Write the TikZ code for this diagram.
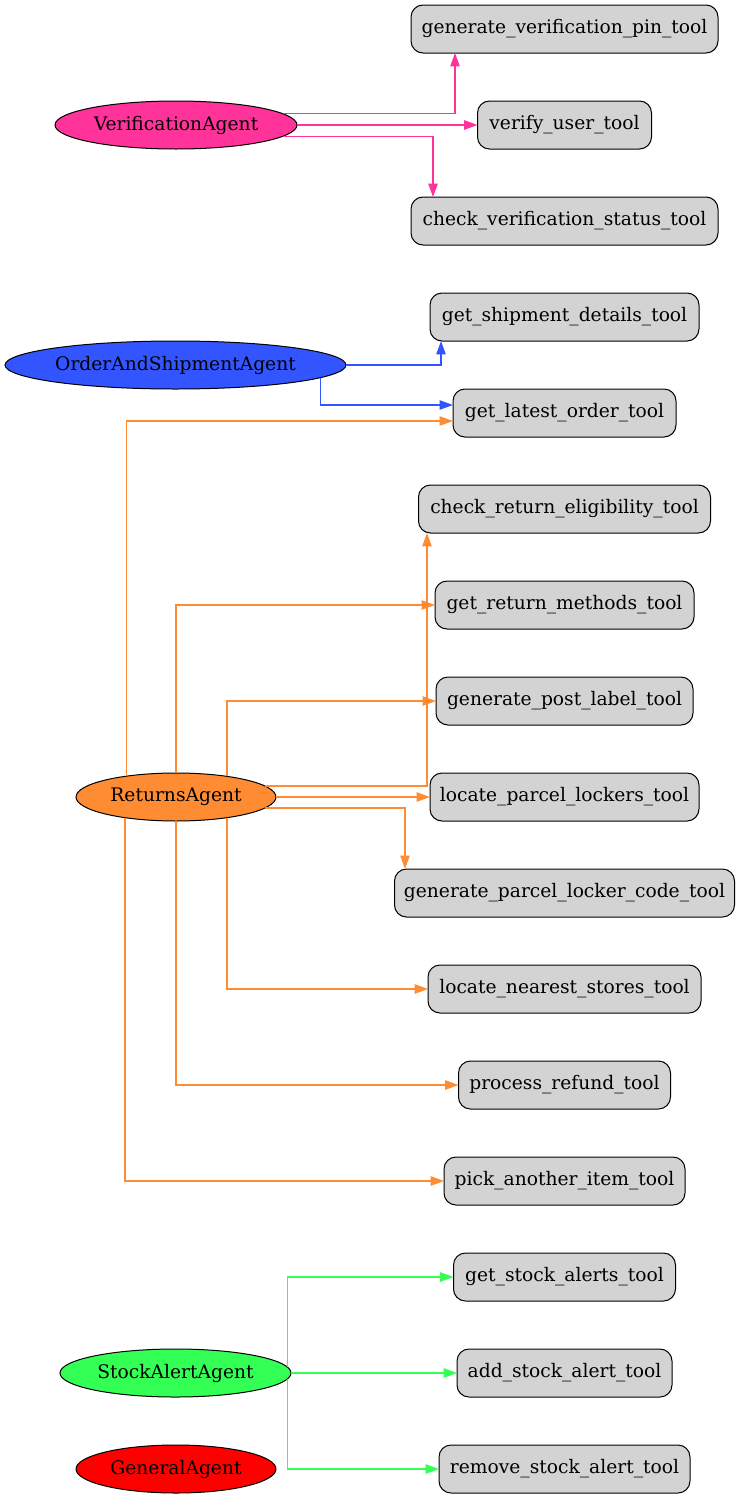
\documentclass[tikz,border=0pt]{standalone}
\usepackage{fontspec}
\setmainfont{DejaVu Serif}
\usetikzlibrary{arrows.meta,shapes.geometric,calc}
\definecolor{vpink}{RGB}{255,51,153}
\definecolor{oblue}{RGB}{51,85,255}
\definecolor{rorange}{RGB}{255,140,51}
\definecolor{sgreen}{RGB}{51,255,85}
\definecolor{gred}{RGB}{255,0,0}
\definecolor{toolgray}{RGB}{211,211,211}
\tikzset{
  toolbox/.style={draw=black, fill=toolgray, rounded corners=9pt, minimum height=36pt,
    inner xsep=1pt, inner ysep=0pt, outer sep=0pt, line width=0.75pt,
    font=\fontsize{14}{16}\selectfont, minimum width=#1},
  agent/.style={ellipse, draw=black, fill=#1, minimum height=36pt, inner sep=0pt,
    outer sep=0pt, line width=0.75pt, font=\fontsize{14}{16}\selectfont},
  edgebase/.style={line width=1pt, -{Triangle[length=10pt,width=7pt]}},
  pinkedge/.style={edgebase, draw=vpink},
  blueedge/.style={edgebase, draw=oblue},
  orangeedge/.style={edgebase, draw=rorange},
  greenedge/.style={edgebase, draw=sgreen},
}
\begin{document}
\begin{tikzpicture}[x=0.75pt, y=-0.75pt]
\useasboundingbox (0,0) rectangle (740,1499);

% tools
\node[toolbox=230.25pt] (gvp)  at (564.5,29)   {generate\_verification\_pin\_tool};
\node[toolbox=130.5pt]  (vut)  at (564.5,125)  {verify\_user\_tool};
\node[toolbox=230.25pt] (cvs)  at (564.5,221)  {check\_verification\_status\_tool};
\node[toolbox=201.75pt] (gsd)  at (564.5,317)  {get\_shipment\_details\_tool};
\node[toolbox=167.25pt] (glo)  at (564.5,413)  {get\_latest\_order\_tool};
\node[toolbox=219pt]    (cre)  at (564.5,509)  {check\_return\_eligibility\_tool};
\node[toolbox=194.25pt] (grm)  at (564.5,605)  {get\_return\_methods\_tool};
\node[toolbox=192.75pt] (gpl)  at (564.5,701)  {generate\_post\_label\_tool};
\node[toolbox=201.75pt] (lpl)  at (564.5,797)  {locate\_parcel\_lockers\_tool};
\node[toolbox=255pt]    (gplc) at (564.5,893)  {generate\_parcel\_locker\_code\_tool};
\node[toolbox=204.75pt] (lns)  at (564.5,989)  {locate\_nearest\_stores\_tool};
\node[toolbox=159pt]    (prt)  at (564.5,1085) {process\_refund\_tool};
\node[toolbox=180.75pt] (pai)  at (564.5,1181) {pick\_another\_item\_tool};
\node[toolbox=166.5pt]  (gsa)  at (564.5,1277) {get\_stock\_alerts\_tool};
\node[toolbox=161.25pt] (asa)  at (564.5,1373) {add\_stock\_alert\_tool};
\node[toolbox=188.25pt] (rsa)  at (564.5,1469) {remove\_stock\_alert\_tool};

% agents
\node[agent=vpink, minimum width=181.5pt]   (va)  at (176,125)    {VerificationAgent};
\node[agent=oblue, minimum width=255.75pt]  (osa) at (175.5,365)  {OrderAndShipmentAgent};
\node[agent=rorange, minimum width=150pt]   (ra)  at (176,797)    {ReturnsAgent};
\node[agent=sgreen, minimum width=173.25pt] (saa) at (175.5,1373) {StockAlertAgent};
\node[agent=gred, minimum width=150pt]      (ga)  at (176,1469)   {GeneralAgent};

% lanes
\coordinate (vL1) at (455,0);
\coordinate (vL2) at (433,0);
\coordinate (oL1) at (441,0);
\coordinate (rL1) at (427,0);
\coordinate (rL2) at (405,0);

% Verification
\draw[pinkedge] (va.6.53) -| (vL1 |- gvp.south);
\draw[pinkedge] (va.east) -- (vut.west);
\draw[pinkedge] (va.-6.53) -| (vL2 |- cvs.north);

% Order
\draw[blueedge] (osa.east) -| (oL1 |- gsd.south);
\draw[blueedge] (osa.-5.04) |- ([yshift=6pt]glo.west);

% Returns
\draw[orangeedge] (ra.157.43) |- ([yshift=-6pt]glo.west);
\draw[orangeedge] (ra.7.89) -| (rL1 |- cre.south);
\draw[orangeedge] (ra.north) |- (grm.west);
\draw[orangeedge] (ra.22.03) |- (gpl.west);
\draw[orangeedge] (ra.east) -- (lpl.west);
\draw[orangeedge] (ra.-7.89) -| (rL2 |- gplc.north);
\draw[orangeedge] (ra.-22.03) |- (lns.west);
\draw[orangeedge] (ra.south) |- (prt.west);
\draw[orangeedge] (ra.202.57) |- (pai.west);

% Stock
\draw[greenedge] (saa.3.61) |- (gsa.west);
\draw[greenedge] (saa.east) -- (asa.west);
\draw[greenedge] (saa.-3.61) |- (rsa.west);
\end{tikzpicture}
\end{document}
